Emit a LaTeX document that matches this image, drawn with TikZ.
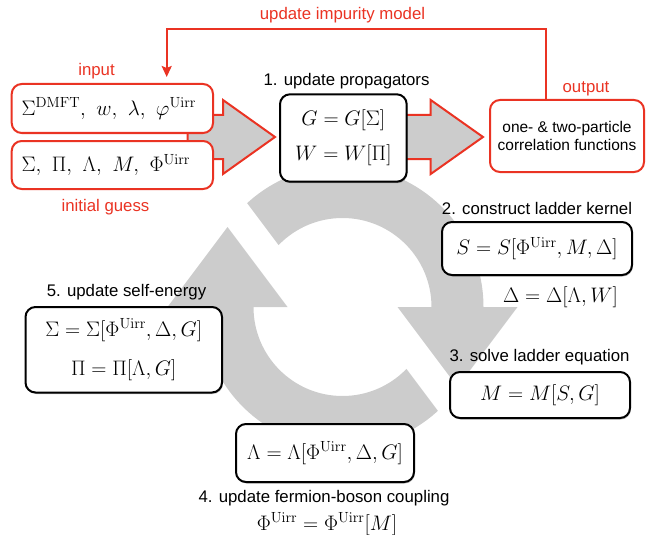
\RequirePackage{fix-cm}
\documentclass[tikz,border=0pt]{standalone}
\usepackage[no-math]{fontspec}
\newfontfamily\labfont{Liberation Sans}
\usetikzlibrary{arrows.meta,shadows}
\definecolor{kred}{RGB}{234,51,35}
\definecolor{kgrey}{RGB}{204,204,204}
\begin{document}
\begin{tikzpicture}[x=1pt,y=-1pt,
  lab/.style={font=\labfont\fontsize{16.8}{20}\selectfont, inner sep=0pt},
  redlab/.style={lab, text=kred},
  mth/.style={font=\fontsize{21}{24}\selectfont, inner sep=0pt},
  redbox/.style={draw=kred, line width=2pt, fill=white, rounded corners=10pt, inner sep=0pt, font=\fontsize{21}{24}\selectfont},
  blkbox/.style={draw=black, line width=2pt, fill=white, rounded corners=10pt, inner sep=0pt, align=center, font=\fontsize{21}{24}\selectfont,
    drop shadow={shadow xshift=0.8pt, shadow yshift=-1.5pt, opacity=0.25, fill=black}},
  blockarrow/.style={draw=kred, line width=2pt, fill=kgrey, line join=miter},
  ring/.style={kgrey, even odd rule},
  fbline/.style={draw=kred, line width=2pt, -{Stealth[length=11pt,width=10pt,inset=2pt]}},
]
\useasboundingbox (0,0) rectangle (646,535);

% grey circular arrows
\coordinate (C) at (342.5,307);
\begin{scope}
  \clip (169.75,100) -- (325,307) -- (520,307) -- (520,100) -- cycle;
  \fill[ring] (C) circle[radius=141pt] (C) circle[radius=89pt];
\end{scope}
\begin{scope}
  \clip (360,307) -- (519.75,520) -- (160,520) -- (160,307) -- cycle;
  \fill[ring] (C) circle[radius=141pt] (C) circle[radius=89pt];
\end{scope}
\fill[kgrey] (167.5,307) -- (227.5,227) -- (287.5,307) -- cycle;
\fill[kgrey] (397.5,307) -- (457.5,387) -- (517.5,307) -- cycle;

% block arrows
\draw[blockarrow] (187.7,115) -- (223,115) -- (223,100) -- (275,137) -- (223,174) -- (223,159) -- (187.7,159) -- cycle;
\draw[blockarrow] (380,115) -- (430.7,115) -- (430.7,100) -- (483,137) -- (430.7,174) -- (430.7,159) -- (380,159) -- cycle;

% boxes
\node[redbox, minimum width=201.3pt, minimum height=49pt, text width=181.3pt, align=left] (in1) at (112.35,108.5)
  {$\Sigma^{\mathrm{DMFT}},\ w,\ \lambda,\ \varphi^{\mathrm{Uirr}}$};
\node[redbox, minimum width=201.3pt, minimum height=48pt, text width=181.3pt, align=left] (in2) at (112.35,165)
  {$\Sigma,\ \Pi,\ \Lambda,\ M,\ \Phi^{\mathrm{Uirr}}$};
\node[blkbox, minimum width=126.7pt, minimum height=87.4pt, font=\fontsize{21}{35.5}\selectfont] (gbox) at (343.35,138)
  {$G=G[\Sigma]$\\$W=W[\Pi]$};
\node[redbox, minimum width=154pt, minimum height=72pt, align=center, font=\labfont\fontsize{15.5}{18}\selectfont] (out) at (567,136)
  {one- \& two-particle\\correlation functions};
\node[blkbox, minimum width=190pt, minimum height=53pt] (sbox) at (537,248.5)
  {$S=S[\Phi^{\mathrm{Uirr}},M,\Delta]$};
\node[blkbox, minimum width=180pt, minimum height=46pt] (mbox) at (540,395)
  {$M=M[S,G]$};
\node[blkbox, minimum width=178pt, minimum height=58pt] (lbox) at (325,453)
  {$\Lambda=\Lambda[\Phi^{\mathrm{Uirr}},\Delta,G]$};
\node[blkbox, minimum width=196.5pt, minimum height=85.5pt, font=\fontsize{21}{39}\selectfont] (sigbox) at (123.75,349.75)
  {$\Sigma=\Sigma[\Phi^{\mathrm{Uirr}},\Delta,G]$\\$\Pi=\Pi[\Lambda,G]$};

% feedback arrow
\coordinate (fbtip) at (166.7,77);
\draw[fbline] ([xshift=-21pt]out.north) |- (166.7,29.3) -- (fbtip);

% labels
\node[redlab] (lupd) at (342.5,15) {update impurity model};
\node[redlab] (linput) at (96.5,71) {input};
\node[redlab] (lguess) at (105.5,206.7) {initial guess};
\node[redlab] (lout) at (586,89) {output};
\node[lab] (l1) at (346.5,80.7) {1. update propagators};
\node[lab] (l2) at (537,208) {2. construct ladder kernel};
\node[mth] (ldelta) at (560.5,297) {$\Delta=\Delta[\Lambda,W]$};
\node[lab] (l3) at (539.5,357) {3. solve ladder equation};
\node[lab] (l5) at (126.5,292) {5. update self-energy};
\node[lab] (l4) at (324,498) {4. update fermion-boson coupling};
\node[mth] (lphi) at (327,524) {$\Phi^{\mathrm{Uirr}}=\Phi^{\mathrm{Uirr}}[M]$};
\end{tikzpicture}
\end{document}
